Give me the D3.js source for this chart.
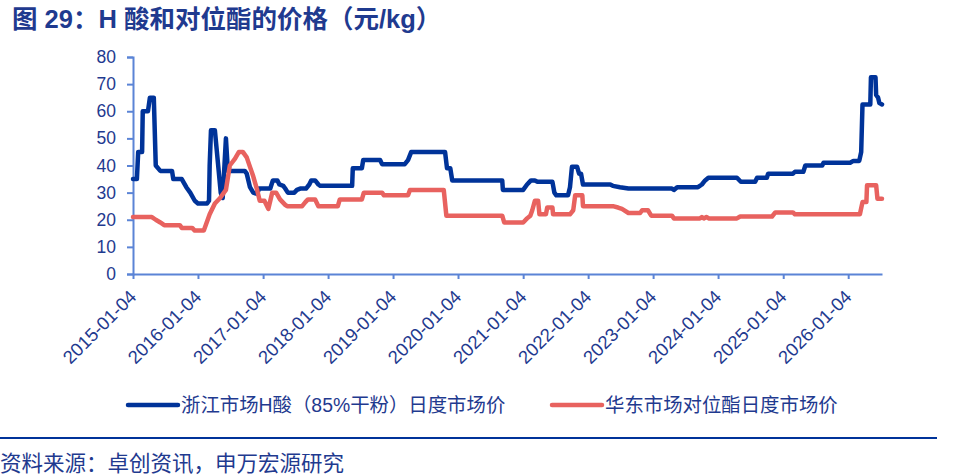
<!DOCTYPE html>
<html>
<head>
<meta charset="utf-8">
<script src="https://cdn.jsdelivr.net/npm/d3@7"></script>
<style>
  body { margin: 0; background: #fff; }
  svg { display: block; font-family: "Liberation Sans", Arial, "Noto Sans CJK SC", sans-serif; }
</style>
</head>
<body>
<div id="chart"></div>
<script>
// decimal years, counted from YYYY-01-04
const hDates = [2015.00, 2015.06, 2015.08, 2015.14, 2015.15, 2015.23, 2015.26, 2015.32, 2015.35, 2015.42,
  2015.60, 2015.62, 2015.75, 2015.82, 2015.88, 2015.95, 2016.00, 2016.14, 2016.17, 2016.18,
  2016.20, 2016.26, 2016.35, 2016.38, 2016.43, 2016.46, 2016.72, 2016.75, 2016.80, 2016.85,
  2016.91, 2016.94, 2017.11, 2017.15, 2017.22, 2017.25, 2017.31, 2017.34, 2017.38, 2017.48,
  2017.52, 2017.57, 2017.66, 2017.71, 2017.74, 2017.80, 2017.85, 2017.88, 2018.37, 2018.38,
  2018.52, 2018.54, 2018.80, 2018.83, 2019.18, 2019.23, 2019.28, 2019.80, 2019.83, 2019.88,
  2019.91, 2020.68, 2020.69, 2021.00, 2021.06, 2021.12, 2021.18, 2021.22, 2021.45, 2021.48,
  2021.51, 2021.69, 2021.72, 2021.75, 2021.83, 2021.86, 2021.89, 2021.92, 2022.34, 2022.38,
  2022.49, 2022.62, 2023.29, 2023.32, 2023.37, 2023.69, 2023.75, 2023.80, 2023.85, 2024.29,
  2024.35, 2024.57, 2024.60, 2024.75, 2024.77, 2025.15, 2025.18, 2025.31, 2025.34, 2025.60,
  2025.62, 2026.03, 2026.08, 2026.17, 2026.20, 2026.22, 2026.34, 2026.35, 2026.42, 2026.43,
  2026.46, 2026.48, 2026.52]
const hValues = [35, 35, 45, 45, 60, 60, 65, 65, 40, 38,
  38, 35, 35, 32, 30, 27, 26, 26, 27, 40,
  53, 53, 30, 28, 50, 38, 38, 37, 32, 30,
  29.5, 31.5, 31.5, 34.5, 34.5, 33, 32.5, 31.5, 30, 30,
  31, 31.5, 31.5, 33, 34.5, 34.5, 33, 32.5, 32.5, 39,
  39, 42, 42, 40.5, 40.5, 42, 45, 45, 39, 39,
  34.5, 34.5, 31, 31, 33, 34.5, 34.5, 34, 34, 30,
  29, 29, 32, 39.5, 39.5, 37, 37, 33, 33, 32.5,
  32, 31.5, 31.5, 31, 32, 32, 33, 34.5, 35.5, 35.5,
  34, 34, 35.5, 35.5, 37, 37, 37.7, 37.7, 40, 40,
  41, 41, 41.7, 41.7, 45, 62.5, 62.5, 72.5, 72.5, 66,
  65, 63, 62.5]

const pDates = [2015.00, 2015.29, 2015.35, 2015.42, 2015.48, 2015.72, 2015.75, 2015.91, 2015.95, 2016.09,
  2016.18, 2016.26, 2016.34, 2016.43, 2016.49, 2016.57, 2016.63, 2016.69, 2016.75, 2016.80,
  2016.85, 2016.91, 2016.95, 2017.02, 2017.08, 2017.14, 2017.20, 2017.26, 2017.34, 2017.37,
  2017.60, 2017.65, 2017.69, 2017.80, 2017.85, 2018.15, 2018.18, 2018.52, 2018.55, 2018.83,
  2018.86, 2019.23, 2019.26, 2019.78, 2019.82, 2020.68, 2020.71, 2021.00, 2021.06, 2021.11,
  2021.14, 2021.18, 2021.23, 2021.25, 2021.35, 2021.37, 2021.45, 2021.46, 2021.72, 2021.77,
  2021.80, 2021.91, 2021.92, 2022.38, 2022.46, 2022.52, 2022.62, 2022.80, 2022.83, 2022.92,
  2022.97, 2023.29, 2023.32, 2023.72, 2023.75, 2023.78, 2023.82, 2023.86, 2024.29, 2024.34,
  2024.83, 2024.88, 2025.15, 2025.18, 2026.18, 2026.22, 2026.28, 2026.29, 2026.43, 2026.45,
  2026.52]
const pValues = [21, 21, 20, 19, 18, 18, 17, 17, 16, 16,
  22, 26, 28, 31, 40, 42.5, 45, 45, 43, 39.5,
  36, 31, 27, 27, 24, 30, 30, 27.5, 25.5, 25,
  25, 26.5, 27.5, 27.5, 25, 25, 27.5, 27.5, 30, 30,
  29, 29, 31, 31, 21.5, 21.5, 19, 19, 20.5, 21.5,
  23.5, 27, 27, 22, 22, 24.5, 24.5, 22, 22, 23.5,
  29, 29, 25, 25, 24.5, 24, 22.5, 22.5, 23.5, 23.5,
  21.5, 21.5, 20.5, 20.5, 21, 20.5, 21, 20.5, 20.5, 21.2,
  21.2, 22.7, 22.7, 22, 22, 26.5, 26.5, 32.7, 32.7, 27.7,
  27.7]

const tickYears = [2015, 2016, 2017, 2018, 2019, 2020, 2021, 2022, 2023, 2024, 2025, 2026]
const yTicks = [0, 10, 20, 30, 40, 50, 60, 70, 80]
const seriesNames = ['浙江市场H酸（85%干粉）日度市场价', '华东市场对位酯日度市场价']
const title = '图 29：H 酸和对位酯的价格（元/kg）'
const source = '资料来源：卓创资讯，申万宏源研究'

const width = 961, height = 476
const margin = {left: 133, top: 57, right: 79, bottom: 202}
const textColor = '#1f3a8f', axisColor = '#5b84d6'
const blue = '#003399', red = '#e8625f'

const toDate = dy => {
  const yr = Math.floor(dy)
  return new Date(Date.UTC(yr, 0, 4) + (dy - yr) * 365.25 * 864e5)
}

const x = d3.scaleUtc()
  .domain([toDate(2015.0), toDate(2026.52)])
  .range([margin.left, width - margin.right])
const y = d3.scaleLinear()
  .domain([0, 80])
  .range([height - margin.bottom, margin.top])

const svg = d3.select('#chart').append('svg')
  .attr('width', width)
  .attr('height', height)

svg.append('text')
  .attr('x', 12).attr('y', 28)
  .attr('fill', textColor)
  .attr('font-size', 25.5)
  .attr('font-weight', 'bold')
  .text(title)

// y axis
const yAxis = svg.append('g')
  .attr('transform', `translate(${margin.left},0)`)
  .call(d3.axisLeft(y).tickValues(yTicks).tickSize(6).tickPadding(11))
yAxis.select('.domain').attr('stroke', axisColor).attr('stroke-width', 2)
yAxis.selectAll('.tick line').attr('stroke', axisColor).attr('stroke-width', 2)
yAxis.selectAll('.tick text')
  .attr('fill', textColor)
  .attr('font-size', 17.5)
  .attr('font-family', '"Liberation Sans", Arial, sans-serif')

// x axis
const xAxis = svg.append('g')
  .attr('transform', `translate(0,${y(0)})`)
  .call(d3.axisBottom(x)
    .tickValues(tickYears.map(toDate))
    .tickFormat(d3.utcFormat('%Y-%m-%d'))
    .tickSize(5).tickSizeOuter(0))
xAxis.select('.domain').attr('stroke', axisColor).attr('stroke-width', 2)
xAxis.selectAll('.tick line').attr('stroke', axisColor).attr('stroke-width', 2)
xAxis.selectAll('.tick text')
  .attr('fill', textColor)
  .attr('font-size', 18.5)
  .attr('font-family', '"Liberation Sans", Arial, sans-serif')
  .attr('text-anchor', 'end')
  .attr('dy', 0)
  .attr('y', 0)
  .attr('transform', 'translate(4,24) rotate(-45)')

const line = d3.line()
  .x(d => x(toDate(d[0])))
  .y(d => y(d[1]))

svg.append('path')
  .datum(hDates.map((d, i) => [d, hValues[i]]))
  .attr('fill', 'none')
  .attr('stroke', blue)
  .attr('stroke-width', 4.5)
  .attr('stroke-linejoin', 'round')
  .attr('stroke-linecap', 'round')
  .attr('d', line)

svg.append('path')
  .datum(pDates.map((d, i) => [d, pValues[i]]))
  .attr('fill', 'none')
  .attr('stroke', red)
  .attr('stroke-width', 4.5)
  .attr('stroke-linejoin', 'round')
  .attr('stroke-linecap', 'round')
  .attr('d', line)

// legend
const legend = [
  {name: seriesNames[0], color: blue, x: 128},
  {name: seriesNames[1], color: red, x: 552}
]
const lg = svg.append('g').selectAll('g')
  .data(legend)
  .join('g')
  .attr('transform', d => `translate(${d.x},405)`)
lg.append('line')
  .attr('x1', 0).attr('x2', 50)
  .attr('stroke', d => d.color)
  .attr('stroke-width', 4.5)
  .attr('stroke-linecap', 'round')
lg.append('text')
  .attr('x', 53).attr('y', 7)
  .attr('fill', textColor)
  .attr('font-size', 19.4)
  .text(d => d.name)

// footer rule and source
svg.append('line')
  .attr('x1', 0).attr('x2', 937)
  .attr('y1', 438).attr('y2', 438)
  .attr('stroke', '#003399')
  .attr('stroke-width', 2.2)
svg.append('text')
  .attr('x', 0).attr('y', 471)
  .attr('fill', textColor)
  .attr('font-size', 21.5)
  .text(source)
</script>
</body>
</html>
